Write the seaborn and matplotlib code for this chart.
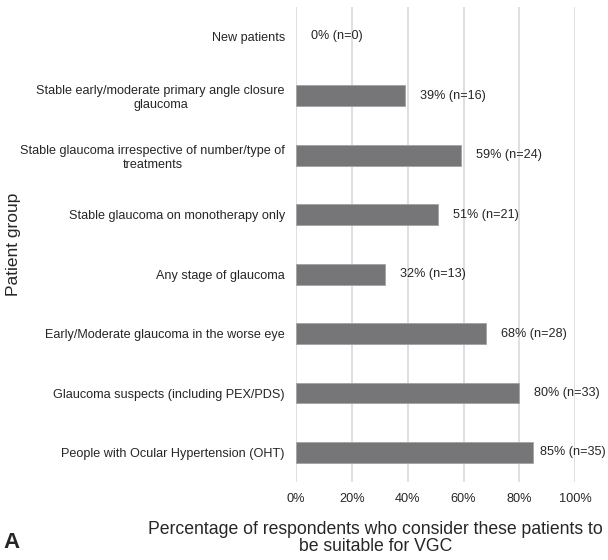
import matplotlib
matplotlib.use("Agg")
import matplotlib.pyplot as plt
from matplotlib.ticker import PercentFormatter
import pandas as pd
import seaborn as sns

groups = [
    "New patients",
    "Stable early/moderate primary angle closure\nglaucoma",
    "Stable glaucoma irrespective of number/type of\ntreatments",
    "Stable glaucoma on monotherapy only",
    "Any stage of glaucoma",
    "Early/Moderate glaucoma in the worse eye",
    "Glaucoma suspects (including PEX/PDS)",
    "People with Ocular Hypertension (OHT)",
]
percent = [0, 39, 59, 51, 32, 68, 80, 85]
counts = [0, 16, 24, 21, 13, 28, 33, 35]

df = pd.DataFrame({"group": groups, "percent": percent, "n": counts})

sns.set_style("white")
plt.rcParams["font.family"] = ["Liberation Sans", "DejaVu Sans"]

fig, ax = plt.subplots(figsize=(6.08, 5.6), dpi=100)
fig.subplots_adjust(left=0.487, right=0.946, top=0.988, bottom=0.139)

sns.barplot(data=df, x="percent", y="group", color="#767679",
            width=0.35, edgecolor="#a3a3a6", linewidth=0.6, ax=ax, zorder=3)
# no outline for empty bars
for p in ax.patches:
    if p.get_width() == 0:
        p.set_linewidth(0)

for i, row in df.iterrows():
    # keep the label inside the figure for the longest bar
    xpos = min(row["percent"] + 5.4, 87.5)
    ax.text(xpos, i, f"{row['percent']}% (n={row['n']})",
            va="center", ha="left", fontsize=9.1, color="#262626")

ax.set_xlim(0, 100)
ax.set_ylim(7.5, -0.5)
ax.set_xticks(range(0, 101, 20))
ax.xaxis.set_major_formatter(PercentFormatter(decimals=0))
ax.grid(axis="x", color="#d9d9d9", linewidth=1.2, zorder=0)
for s in ax.spines.values():
    s.set_visible(False)
ax.tick_params(axis="x", length=0, labelsize=9.2, colors="#262626", pad=8)
ax.tick_params(axis="y", length=0, labelsize=9.1, colors="#262626", pad=8)
for lbl in ax.get_yticklabels():
    lbl.set_multialignment("center")

ax.set_xlabel("")
ax.set_ylabel("")
fig.text(0.617, 0.039, "Percentage of respondents who consider these patients to\nbe suitable for VGC",
         ha="center", va="center", fontsize=12.7, color="#262626", linespacing=0.95)
fig.text(0.023, 0.563, "Patient group", rotation=90, ha="center", va="center",
         fontsize=12.5, color="#262626")

fig.text(0.005, 0.022, "A", fontsize=16, fontweight="bold", color="#262626")

fig.savefig("out.png", dpi=100)
